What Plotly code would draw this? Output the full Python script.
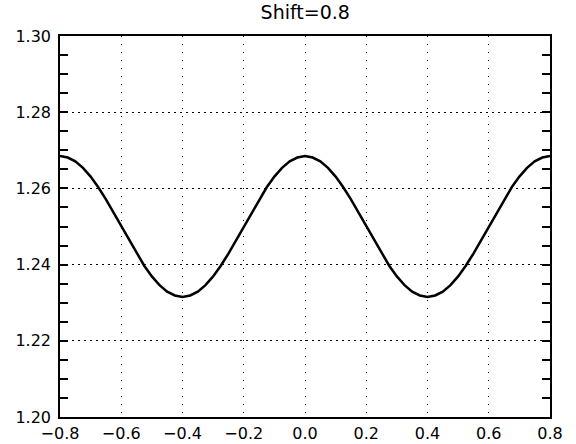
import plotly.graph_objects as go

x_vals = [-0.800, -0.775, -0.750, -0.725, -0.700, -0.675, -0.650, -0.625,
          -0.600, -0.575, -0.550, -0.525, -0.500, -0.475, -0.450, -0.425,
          -0.400, -0.375, -0.350, -0.325, -0.300, -0.275, -0.250, -0.225,
          -0.200, -0.175, -0.150, -0.125, -0.100, -0.075, -0.050, -0.025,
          0.000, 0.025, 0.050, 0.075, 0.100, 0.125, 0.150, 0.175,
          0.200, 0.225, 0.250, 0.275, 0.300, 0.325, 0.350, 0.375,
          0.400, 0.425, 0.450, 0.475, 0.500, 0.525, 0.550, 0.575,
          0.600, 0.625, 0.650, 0.675, 0.700, 0.725, 0.750, 0.775, 0.800]
y_vals = [1.2685, 1.2681, 1.2671, 1.2654, 1.2631, 1.2603, 1.2571, 1.2536,
          1.2500, 1.2464, 1.2429, 1.2397, 1.2369, 1.2346, 1.2329, 1.2319,
          1.2315, 1.2319, 1.2329, 1.2346, 1.2369, 1.2397, 1.2429, 1.2464,
          1.2500, 1.2536, 1.2571, 1.2603, 1.2631, 1.2654, 1.2671, 1.2681,
          1.2685, 1.2681, 1.2671, 1.2654, 1.2631, 1.2603, 1.2571, 1.2536,
          1.2500, 1.2464, 1.2429, 1.2397, 1.2369, 1.2346, 1.2329, 1.2319,
          1.2315, 1.2319, 1.2329, 1.2346, 1.2369, 1.2397, 1.2429, 1.2464,
          1.2500, 1.2536, 1.2571, 1.2603, 1.2631, 1.2654, 1.2671, 1.2681, 1.2685]
x_ticks = [-0.8, -0.6, -0.4, -0.2, 0.0, 0.2, 0.4, 0.6, 0.8]
x_labels = ["\u22120.8", "\u22120.6", "\u22120.4", "\u22120.2", "0.0", "0.2", "0.4", "0.6", "0.8"]
y_ticks = [1.20, 1.22, 1.24, 1.26, 1.28, 1.30]
y_labels = ["1.20", "1.22", "1.24", "1.26", "1.28", "1.30"]
title_text = "Shift=0.8"

fig = go.Figure()
fig.add_trace(go.Scatter(x=x_vals, y=y_vals, mode="lines",
                         line=dict(color="black", width=2.5),
                         showlegend=False))

font = dict(family="DejaVu Sans", size=16, color="black")
fig.update_layout(
    width=576, height=444,
    margin=dict(l=60, r=26, t=36, b=27, autoexpand=False),
    paper_bgcolor="white", plot_bgcolor="white",
    font=font,
    title=dict(text=title_text, x=0.53, xanchor="center", y=0.972, yanchor="middle",
               font=dict(family="DejaVu Sans", size=19, color="black")),
    xaxis=dict(range=[-0.8, 0.8], tickvals=x_ticks, ticktext=x_labels,
               showline=True, linecolor="black", linewidth=1.5, mirror=True,
               ticks="", showgrid=True, gridcolor="black", gridwidth=1,
               griddash="1px,7px", zeroline=False, ticklabelstandoff=1,
               automargin=False),
    yaxis=dict(range=[1.20, 1.30], tickvals=y_ticks, ticktext=y_labels,
               showline=True, linecolor="black", linewidth=1.5, mirror="ticks",
               ticks="inside", ticklen=0, showgrid=True, gridcolor="black", gridwidth=1,
               griddash="2px,4px", zeroline=False, automargin=False,
               ticklabelstandoff=4,
               minor=dict(dtick=0.005, tick0=1.20, ticks="inside", ticklen=8,
                          tickcolor="black", tickwidth=1.5, showgrid=False)),
)
fig.write_html("out.html")
